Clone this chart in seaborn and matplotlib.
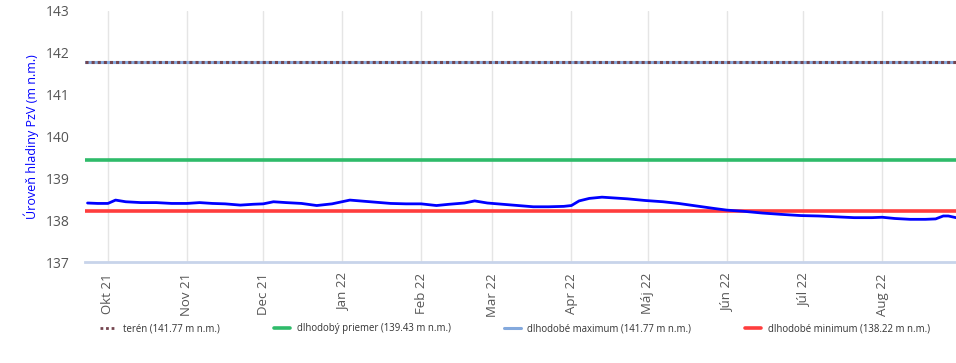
import pandas as pd
import matplotlib
matplotlib.use("Agg")
import matplotlib.pyplot as plt
from matplotlib.lines import Line2D
import seaborn as sns

sns.set_style("white")
plt.rcParams['font.family'] = ['Open Sans', 'DejaVu Sans']

# groundwater level (m n.m.)
dates = [
    "2021-09-23", "2021-09-27", "2021-10-01", "2021-10-04", "2021-10-08", "2021-10-14",
    "2021-10-20", "2021-10-26", "2021-11-01", "2021-11-06", "2021-11-11", "2021-11-16",
    "2021-11-22", "2021-11-27", "2021-12-01", "2021-12-05", "2021-12-10", "2021-12-16",
    "2021-12-22", "2021-12-28", "2022-01-04", "2022-01-08", "2022-01-14", "2022-01-20",
    "2022-01-26", "2022-02-01", "2022-02-07", "2022-02-12", "2022-02-18", "2022-02-22",
    "2022-02-27", "2022-03-05", "2022-03-11", "2022-03-17", "2022-03-23", "2022-03-29",
    "2022-04-01", "2022-04-04", "2022-04-08", "2022-04-13", "2022-04-18", "2022-04-23",
    "2022-04-30", "2022-05-07", "2022-05-13", "2022-05-20", "2022-05-27", "2022-06-01",
    "2022-06-08", "2022-06-15", "2022-06-22", "2022-06-30", "2022-07-07", "2022-07-14",
    "2022-07-21", "2022-07-28", "2022-08-01", "2022-08-06", "2022-08-12", "2022-08-18",
    "2022-08-22", "2022-08-25", "2022-08-27", "2022-08-30",
]
levels = [
    138.41, 138.40, 138.40, 138.48, 138.44, 138.42,
    138.42, 138.40, 138.40, 138.42, 138.40, 138.39,
    138.36, 138.38, 138.39, 138.44, 138.42, 138.40,
    138.35, 138.39, 138.48, 138.46, 138.43, 138.40,
    138.39, 138.39, 138.35, 138.38, 138.41, 138.46,
    138.41, 138.38, 138.35, 138.32, 138.32, 138.33,
    138.35, 138.46, 138.52, 138.55, 138.53, 138.51,
    138.47, 138.44, 138.40, 138.34, 138.28, 138.24,
    138.21, 138.17, 138.14, 138.11, 138.10, 138.08,
    138.06, 138.06, 138.07, 138.04, 138.02, 138.02,
    138.03, 138.10, 138.10, 138.06,
]

teren = 141.77
lt_mean = 139.43
lt_max = 141.77
lt_min = 138.22

tick_dates = ["2021-10-01", "2021-11-01", "2021-12-01", "2022-01-01", "2022-02-01",
              "2022-03-01", "2022-04-01", "2022-05-01", "2022-06-01", "2022-07-01",
              "2022-08-01"]
tick_labels = ["Okt 21", "Nov 21", "Dec 21", "Jan 22", "Feb 22", "Mar 22",
               "Apr 22", "Máj 22", "Jún 22", "Júl 22", "Aug 22"]

df = pd.DataFrame({"date": pd.to_datetime(dates), "level": levels})

fig = plt.figure(figsize=(9.56, 3.63), dpi=100)
ax = fig.add_axes([85 / 956, 1 - 262 / 363, 871 / 956, 251 / 363])

ax.axhline(lt_max, color="#84a9dd", lw=2.2, zorder=2)
ax.axhline(teren, color="#74454f", lw=2.2, ls=(0, (1, 1)), zorder=3)
ax.axhline(lt_mean, color="#2fbb6a", lw=2.6, zorder=2)
ax.axhline(lt_min, color="#ff3d3d", lw=2.6, zorder=2)
sns.lineplot(data=df, x="date", y="level", ax=ax, color="#0000ff", lw=2, legend=False, zorder=4)

ax.set_xlim(pd.Timestamp("2021-09-22"), pd.Timestamp("2022-08-30"))
ax.set_ylim(137, 143)
ax.set_yticks(range(137, 144))
ax.set_xticks(pd.to_datetime(tick_dates))
ax.set_xticklabels(tick_labels, rotation=90)

ax.grid(axis="x", color="#e5e5e5", lw=1)
ax.grid(axis="y", visible=False)
for s in ["top", "right", "left"]:
    ax.spines[s].set_visible(False)
ax.spines["bottom"].set_color("#c8d4ea")
ax.spines["bottom"].set_linewidth(2)
ax.tick_params(axis="y", length=7.5, width=1.5, color="#dce3ef", pad=3.5, labelsize=10, labelcolor="#555555")
ax.tick_params(axis="x", length=7, width=1, color="#dce3ef", pad=1, labelsize=9.5, labelcolor="#555555")
ax.set_xlabel("")
ax.set_ylabel("Úroveň hladiny PzV (m n.m.)", color="#0000ff", fontsize=9, labelpad=5)

handles = [
    Line2D([0], [0], color="#74454f", lw=2, ls=(0, (1, 1))),
    Line2D([0], [0], color="#2fbb6a", lw=2.6),
    Line2D([0], [0], color="#84a9dd", lw=2.2),
    Line2D([0], [0], color="#ff3d3d", lw=2.6),
]
labels = [
    f"terén ({teren:.2f} m n.m.)",
    f"dlhodobý priemer ({lt_mean:.2f} m n.m.)",
    f"dlhodobé maximum ({lt_max:.2f} m n.m.)",
    f"dlhodobé minimum ({lt_min:.2f} m n.m.)",
]
fig.legend(handles, labels, ncol=4, loc="center left", bbox_to_anchor=(100 / 956, 1 - 329 / 363),
           frameon=False, fontsize=6.9, handlelength=1.7, handletextpad=0.7, columnspacing=5.6,
           borderpad=0, borderaxespad=0, labelcolor="#333333")

fig.savefig("out.png", dpi=100)
